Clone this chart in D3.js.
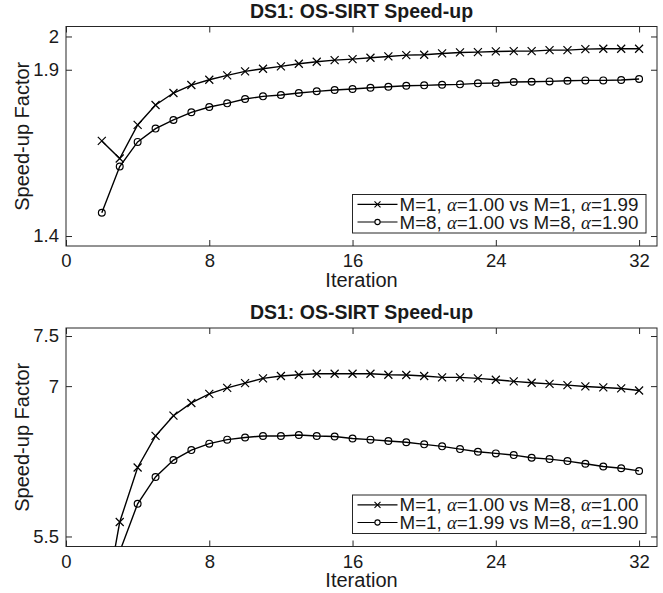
<!DOCTYPE html>
<html>
<head>
<meta charset="utf-8">
<script src="https://cdn.jsdelivr.net/npm/d3@7/dist/d3.min.js"></script>
<style>
  body { margin: 0; background: #fff; }
  text { font-family: "Liberation Sans", Arial, sans-serif; fill: #1a1a1a; }
</style>
</head>
<body>
<svg width="663" height="593"></svg>
<script>
// iterations on the x axis
var iterations = [2, 3, 4, 5, 6, 7, 8, 9, 10, 11, 12, 13, 14, 15, 16, 17,
                  18, 19, 20, 21, 22, 23, 24, 25, 26, 27, 28, 29, 30, 31, 32];
var xTicks = [0, 8, 16, 24, 32];

// top panel: M=1 vs M=1, M=8 vs M=8
var topCross = [1.686, 1.633, 1.734, 1.794, 1.830, 1.854, 1.870, 1.883, 1.895, 1.903,
                1.910, 1.918, 1.924, 1.929, 1.932, 1.936, 1.940, 1.944, 1.945, 1.949,
                1.952, 1.953, 1.955, 1.956, 1.956, 1.959, 1.959, 1.962, 1.963, 1.963, 1.963];
var topCircle = [1.470, 1.609, 1.683, 1.723, 1.749, 1.772, 1.788, 1.799, 1.812, 1.820,
                 1.824, 1.830, 1.835, 1.839, 1.842, 1.846, 1.849, 1.852, 1.853, 1.855,
                 1.856, 1.859, 1.860, 1.863, 1.864, 1.865, 1.867, 1.868, 1.868, 1.869, 1.872];
var topYTicks = [1.4, 1.9, 2];
var topLegend = [["M=1, ", "1.00 vs M=1, ", "1.99"], ["M=8, ", "1.00 vs M=8, ", "1.90"]];

// bottom panel: M=1 vs M=8
var botCross = [4.65, 5.644, 6.188, 6.503, 6.705, 6.832, 6.923, 6.983, 7.030, 7.077,
                7.101, 7.114, 7.124, 7.124, 7.124, 7.124, 7.114, 7.111, 7.101, 7.087,
                7.087, 7.077, 7.064, 7.047, 7.034, 7.023, 7.010, 6.997, 6.987, 6.977, 6.956];
var botCircle = [4.40, 5.349, 5.826, 6.094, 6.262, 6.362, 6.426, 6.466, 6.487, 6.503,
                 6.503, 6.513, 6.503, 6.497, 6.477, 6.466, 6.453, 6.440, 6.419, 6.399,
                 6.372, 6.346, 6.329, 6.312, 6.285, 6.272, 6.252, 6.225, 6.198, 6.181, 6.154];
var botYTicks = [5.5, 7, 7.5];
var botLegend = [["M=1, ", "1.00 vs M=8, ", "1.00"], ["M=1, ", "1.99 vs M=8, ", "1.90"]];

var svg = d3.select("svg");
var left = 66, right = 657, tick = 6;

var crossPath = function(s) { return "M" + -s + "," + -s + "L" + s + "," + s + "M" + -s + "," + s + "L" + s + "," + -s; };

function drawPanel(id, top, bottom, yDomain, yTicks, cross, circle, legend) {
  var g = svg.append("g");
  var x = d3.scaleLinear().domain([0, 33]).range([left, right]);
  var y = d3.scaleLinear().domain(yDomain).range([bottom, top]);

  g.append("clipPath").attr("id", id)
    .append("rect").attr("x", left).attr("y", top)
    .attr("width", right - left).attr("height", bottom - top);

  // axes with inward ticks, on all four sides
  g.append("g").attr("transform", "translate(0," + bottom + ")")
    .call(d3.axisBottom(x).tickValues(xTicks).tickSizeInner(-tick).tickSizeOuter(0).tickPadding(8));
  g.append("g").attr("transform", "translate(0," + top + ")")
    .call(d3.axisTop(x).tickValues(xTicks).tickSizeInner(-tick).tickSizeOuter(0).tickFormat(""));
  g.append("g").attr("transform", "translate(" + left + ",0)")
    .call(d3.axisLeft(y).tickValues(yTicks).tickFormat(String).tickSizeInner(-tick).tickSizeOuter(0).tickPadding(7));
  g.append("g").attr("transform", "translate(" + right + ",0)")
    .call(d3.axisRight(y).tickValues(yTicks).tickSizeInner(-tick).tickSizeOuter(0).tickFormat(""));
  g.selectAll(".domain").remove();
  g.selectAll(".tick line").attr("stroke", "#262626");
  g.selectAll(".tick text").style("font-size", "18.5px").attr("fill", "#1a1a1a");

  g.append("rect").attr("x", left).attr("y", top)
    .attr("width", right - left).attr("height", bottom - top)
    .attr("fill", "none").attr("stroke", "#262626").attr("stroke-width", 1);

  var line = d3.line()
    .x(function(d, i) { return x(iterations[i]); })
    .y(function(d) { return y(d); });

  var plot = g.append("g").attr("clip-path", "url(#" + id + ")");
  [cross, circle].forEach(function(s) {
    plot.append("path").datum(s).attr("d", line)
      .attr("fill", "none").attr("stroke", "#000").attr("stroke-width", 1.4);
  });
  plot.selectAll(".xm").data(cross).enter().append("path")
    .attr("transform", function(d, i) { return "translate(" + x(iterations[i]) + "," + y(d) + ")"; })
    .attr("d", crossPath(4)).attr("stroke", "#000").attr("stroke-width", 1.2);
  plot.selectAll(".om").data(circle).enter().append("circle")
    .attr("cx", function(d, i) { return x(iterations[i]); })
    .attr("cy", function(d) { return y(d); })
    .attr("r", 3.4).attr("fill", "none").attr("stroke", "#000").attr("stroke-width", 1.2);

  // titles
  g.append("text").attr("x", (left + right) / 2).attr("y", top - 9)
    .attr("text-anchor", "middle").style("font-size", "19.5px").style("font-weight", "bold")
    .text("DS1: OS-SIRT Speed-up");
  g.append("text").attr("x", (left + right) / 2).attr("y", bottom + 40.5)
    .attr("text-anchor", "middle").style("font-size", "20px").text("Iteration");
  g.append("text")
    .attr("transform", "translate(29," + (top + bottom) / 2 + ") rotate(-90)")
    .attr("text-anchor", "middle").style("font-size", "20px").text("Speed-up Factor");

  // legend
  var lx = 352.5, ly = bottom - 51.5, lw = 293.5, lh = 38.5;
  var lg = g.append("g");
  lg.append("rect").attr("x", lx).attr("y", ly).attr("width", lw).attr("height", lh)
    .attr("fill", "#fff").attr("stroke", "#262626").attr("stroke-width", 1);
  legend.forEach(function(parts, k) {
    var cy = ly + 9.8 + k * 17.7;
    lg.append("line").attr("x1", lx + 5).attr("x2", lx + 45).attr("y1", cy).attr("y2", cy)
      .attr("stroke", "#000").attr("stroke-width", 1.2);
    if (k === 0) {
      lg.append("path").attr("transform", "translate(" + (lx + 25) + "," + cy + ")")
        .attr("d", crossPath(3)).attr("stroke", "#000").attr("stroke-width", 1.1);
    } else {
      lg.append("circle").attr("cx", lx + 25).attr("cy", cy).attr("r", 2.6)
        .attr("fill", "#fff").attr("stroke", "#000").attr("stroke-width", 1.1);
    }
    var t = lg.append("text").attr("x", lx + 47).attr("y", cy + 6.6).style("font-size", "18.8px");
    t.append("tspan").text(parts[0]);
    t.append("tspan").style("font-family", "'Liberation Serif', serif").style("font-style", "italic").text("\u03b1");
    t.append("tspan").text("=" + parts[1]);
    t.append("tspan").style("font-family", "'Liberation Serif', serif").style("font-style", "italic").text("\u03b1");
    t.append("tspan").text("=" + parts[2]);
  });
}

drawPanel("clipTop", 26.5, 246, [1.37, 2.03], topYTicks, topCross, topCircle, topLegend);
drawPanel("clipBot", 328, 546.5, [5.40, 7.58], botYTicks, botCross, botCircle, botLegend);
</script>
</body>
</html>
